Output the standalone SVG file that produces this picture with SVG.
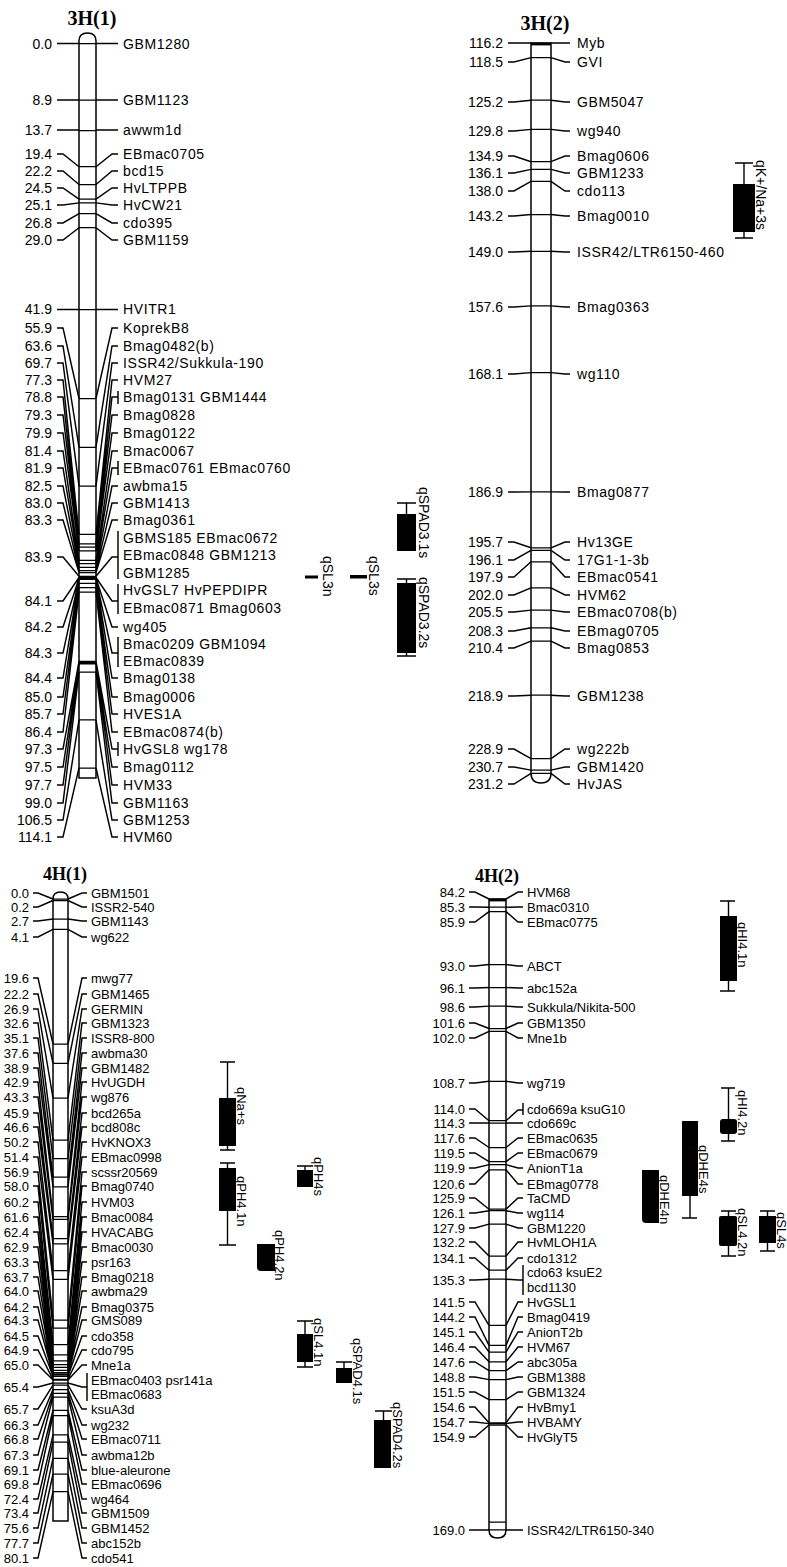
<svg xmlns="http://www.w3.org/2000/svg" width="787" height="1567" viewBox="0 0 787 1567">
<style>
.ln{fill:none;stroke:#000;stroke-width:1.45}
.il{fill:none;stroke:#000;stroke-width:1.25}
.bar{fill:#fff;stroke:#000;stroke-width:1.5}
.tk{fill:none;stroke:#000;stroke-width:2.8}
.t14{font-family:"Liberation Sans",Arial,sans-serif;font-size:14px;fill:#000}
.t13{font-family:"Liberation Sans",Arial,sans-serif;font-size:13px;fill:#000}
.n{text-anchor:end}
.m3{letter-spacing:0.6px}
.ttl{font-family:"Liberation Serif","Times New Roman",serif;font-weight:bold;text-anchor:middle;fill:#000}
.qb{fill:#000}
.qw{fill:none;stroke:#000;stroke-width:1.4}
</style>
<rect width="787" height="1567" fill="#fff"/>

<!-- ===== Chromosome 3H(1) ===== -->
<g id="chr-3H1">
<text class="ttl" x="92" y="25" font-size="20">3H(1)</text>
<path class="bar" d="M79,778V41Q79,33 87.5,33Q96,33 96,41V778Z"/>
<path class="il" d="M79,43.5H96M79,100H96M79,130.5H96M79,166.7H96M79,184.5H96M79,199.1H96M79,202.9H96M79,213.7H96M79,227.7H96M79,309.6H96M79,398.5H96M79,447.4H96M79,486.1H96M79,534.4H96M79,543.9H96M79,547.1H96M79,550.9H96M79,560.4H96M79,563.6H96M79,567.4H96M79,570.6H96M79,572.5H96M79,576.3H96M79,577.5H96M79,578.2H96M79,578.8H96M79,579.4H96M79,583.3H96M79,587.7H96M79,592.1H96M79,661.4H96M79,662.6H96M79,663.9H96M79,672.2H96M79,719.8H96M79,768H96"/>
<g class="t14 n">
<text x="52" y="49">0.0</text><text x="52" y="105">8.9</text><text x="52" y="135">13.7</text><text x="52" y="159">19.4</text><text x="52" y="176">22.2</text><text x="52" y="193">24.5</text><text x="52" y="210">25.1</text><text x="52" y="228">26.8</text><text x="52" y="245">29.0</text><text x="52" y="314">41.9</text><text x="52" y="333">55.9</text><text x="52" y="351">63.6</text><text x="52" y="368">69.7</text><text x="52" y="385">77.3</text><text x="52" y="402">78.8</text><text x="52" y="420">79.3</text><text x="52" y="438">79.9</text><text x="52" y="456">81.4</text><text x="52" y="473">81.9</text><text x="52" y="491">82.5</text><text x="52" y="508">83.0</text><text x="52" y="525">83.3</text><text x="52" y="562">83.9</text><text x="52" y="606">84.1</text><text x="52" y="632">84.2</text><text x="52" y="658">84.3</text><text x="52" y="683">84.4</text><text x="52" y="702">85.0</text><text x="52" y="719">85.7</text><text x="52" y="737">86.4</text><text x="52" y="754">97.3</text><text x="52" y="772">97.5</text><text x="52" y="790">97.7</text><text x="52" y="808">99.0</text><text x="52" y="825">106.5</text><text x="52" y="842">114.1</text>
</g>
<g class="t14 m3">
<text x="123" y="49">GBM1280</text><text x="123" y="105">GBM1123</text><text x="123" y="135">awwm1d</text><text x="123" y="159">EBmac0705</text><text x="123" y="176">bcd15</text><text x="123" y="193">HvLTPPB</text><text x="123" y="210">HvCW21</text><text x="123" y="228">cdo395</text><text x="123" y="245">GBM1159</text><text x="123" y="314">HVITR1</text><text x="123" y="333">KoprekB8</text><text x="123" y="351">Bmag0482(b)</text><text x="123" y="368">ISSR42/Sukkula-190</text><text x="123" y="385">HVM27</text><text x="123" y="402">Bmag0131 GBM1444</text><text x="123" y="420">Bmag0828</text><text x="123" y="438">Bmag0122</text><text x="123" y="456">Bmac0067</text><text x="123" y="473">EBmac0761 EBmac0760</text><text x="123" y="491">awbma15</text><text x="123" y="508">GBM1413</text><text x="123" y="525">Bmag0361</text><text x="123" y="543">GBMS185 EBmac0672</text><text x="123" y="560">EBmac0848 GBM1213</text><text x="123" y="578">GBM1285</text><text x="123" y="595">HvGSL7 HvPEPDIPR</text><text x="123" y="613">EBmac0871 Bmag0603</text><text x="123" y="632">wg405</text><text x="123" y="649">Bmac0209 GBM1094</text><text x="123" y="666">EBmac0839</text><text x="123" y="683">Bmag0138</text><text x="123" y="702">Bmag0006</text><text x="123" y="719">HVES1A</text><text x="123" y="737">EBmac0874(b)</text><text x="123" y="754">HvGSL8 wg178</text><text x="123" y="772">Bmag0112</text><text x="123" y="790">HVM33</text><text x="123" y="808">GBM1163</text><text x="123" y="825">GBM1253</text><text x="123" y="842">HVM60</text>
</g>
</g>

<!-- ===== Chromosome 3H(2) ===== -->
<g id="chr-3H2">
<text class="ttl" x="545" y="30" font-size="20">3H(2)</text>
<path class="bar" d="M531,43V773Q531,783 541,783Q551,783 551,773V43Z"/>
<path class="tk" d="M531,44H551"/>
<path class="il" d="M531,57.6H551M531,100.2H551M531,129.4H551M531,161.7H551M531,169.4H551M531,181.4H551M531,214.5H551M531,251.3H551M531,305.9H551M531,372.6H551M531,491.9H551M531,547.8H551M531,550.4H551M531,561.8H551M531,587.8H551M531,610.1H551M531,627.8H551M531,641.2H551M531,695.2H551M531,758.6H551M531,770.1H551M531,773.3H551"/>
<g class="t14 n">
<text x="503" y="48">116.2</text><text x="503" y="67">118.5</text><text x="503" y="107">125.2</text><text x="503" y="136">129.8</text><text x="503" y="161">134.9</text><text x="503" y="178">136.1</text><text x="503" y="196">138.0</text><text x="503" y="221">143.2</text><text x="503" y="257">149.0</text><text x="503" y="312">157.6</text><text x="503" y="379">168.1</text><text x="503" y="497">186.9</text><text x="503" y="547">195.7</text><text x="503" y="565">196.1</text><text x="503" y="582">197.9</text><text x="503" y="600">202.0</text><text x="503" y="617">205.5</text><text x="503" y="636">208.3</text><text x="503" y="653">210.4</text><text x="503" y="701">218.9</text><text x="503" y="754">228.9</text><text x="503" y="772">230.7</text><text x="503" y="789">231.2</text>
</g>
<g class="t14 m3">
<text x="577" y="48">Myb</text><text x="577" y="67">GVI</text><text x="577" y="107">GBM5047</text><text x="577" y="136">wg940</text><text x="577" y="161">Bmag0606</text><text x="577" y="178">GBM1233</text><text x="577" y="196">cdo113</text><text x="577" y="221">Bmag0010</text><text x="577" y="257">ISSR42/LTR6150-460</text><text x="577" y="312">Bmag0363</text><text x="577" y="379">wg110</text><text x="577" y="497">Bmag0877</text><text x="577" y="547">Hv13GE</text><text x="577" y="565">17G1-1-3b</text><text x="577" y="582">EBmac0541</text><text x="577" y="600">HVM62</text><text x="577" y="617">EBmac0708(b)</text><text x="577" y="636">EBmag0705</text><text x="577" y="653">Bmag0853</text><text x="577" y="701">GBM1238</text><text x="577" y="754">wg222b</text><text x="577" y="772">GBM1420</text><text x="577" y="789">HvJAS</text>
</g>
</g>

<!-- ===== Chromosome 4H(1) ===== -->
<g id="chr-4H1">
<text class="ttl" x="65" y="880" font-size="18">4H(1)</text>
<path class="bar" d="M53,1521V899Q53,892 60.5,892Q68,892 68,899V1521Z"/>
<path class="il" d="M53,899H68M53,900.5H68M53,919H68M53,929.3H68M53,1044H68M53,1063.3H68M53,1098H68M53,1140.2H68M53,1158.7H68M53,1177.2H68M53,1186.9H68M53,1216.5H68M53,1219.4H68M53,1238.7H68M53,1243.8H68M53,1270.5H68M53,1279.4H68M53,1320.1H68M53,1328.2H68M53,1344.5H68M53,1354.8H68M53,1360.8H68M53,1364.5H68M53,1367.4H68M53,1370.4H68M53,1372.6H68M53,1374.1H68M53,1374.8H68M53,1376.3H68M53,1379.3H68M53,1380H68M53,1383H68M53,1385.2H68M53,1389.6H68M53,1393.3H68M53,1397H68M53,1410.3H68M53,1415.5H68M53,1434.8H68M53,1442.2H68M53,1458.4H68M53,1474H68M53,1491.7H68"/>
<g class="t13 n">
<text x="29" y="897.5">0.0</text><text x="29" y="911.5">0.2</text><text x="29" y="925.5">2.7</text><text x="29" y="941.5">4.1</text><text x="29" y="982.5">19.6</text><text x="29" y="998.5">22.2</text><text x="29" y="1013.5">26.9</text><text x="29" y="1027.5">32.6</text><text x="29" y="1042.5">35.1</text><text x="29" y="1057.5">37.6</text><text x="29" y="1072.5">38.9</text><text x="29" y="1086.5">42.9</text><text x="29" y="1101.5">43.3</text><text x="29" y="1117.5">45.9</text><text x="29" y="1131.5">46.6</text><text x="29" y="1146.5">50.2</text><text x="29" y="1161.5">51.4</text><text x="29" y="1176.5">56.9</text><text x="29" y="1190.5">58.0</text><text x="29" y="1206.5">60.2</text><text x="29" y="1221.5">61.6</text><text x="29" y="1236.5">62.4</text><text x="29" y="1251.5">62.9</text><text x="29" y="1266.5">63.3</text><text x="29" y="1281.5">63.7</text><text x="29" y="1295.5">64.0</text><text x="29" y="1311.5">64.2</text><text x="29" y="1324.5">64.3</text><text x="29" y="1340.5">64.5</text><text x="29" y="1354.5">64.9</text><text x="29" y="1369.5">65.0</text><text x="29" y="1391.5">65.4</text><text x="29" y="1413.5">65.7</text><text x="29" y="1429.5">66.3</text><text x="29" y="1443.5">66.8</text><text x="29" y="1459.5">67.3</text><text x="29" y="1474.5">69.1</text><text x="29" y="1488.5">69.8</text><text x="29" y="1503.5">72.4</text><text x="29" y="1517.5">73.4</text><text x="29" y="1532.5">75.6</text><text x="29" y="1547.5">77.7</text><text x="29" y="1562.5">80.1</text>
</g>
<g class="t13">
<text x="91" y="897.5">GBM1501</text><text x="91" y="911.5">ISSR2-540</text><text x="91" y="925.5">GBM1143</text><text x="91" y="941.5">wg622</text><text x="91" y="982.5">mwg77</text><text x="91" y="998.5">GBM1465</text><text x="91" y="1013.5">GERMIN</text><text x="91" y="1027.5">GBM1323</text><text x="91" y="1042.5">ISSR8-800</text><text x="91" y="1057.5">awbma30</text><text x="91" y="1072.5">GBM1482</text><text x="91" y="1086.5">HvUGDH</text><text x="91" y="1101.5">wg876</text><text x="91" y="1117.5">bcd265a</text><text x="91" y="1131.5">bcd808c</text><text x="91" y="1146.5">HvKNOX3</text><text x="91" y="1161.5">EBmac0998</text><text x="91" y="1176.5">scssr20569</text><text x="91" y="1190.5">Bmag0740</text><text x="91" y="1206.5">HVM03</text><text x="91" y="1221.5">Bmac0084</text><text x="91" y="1236.5">HVACABG</text><text x="91" y="1251.5">Bmac0030</text><text x="91" y="1266.5">psr163</text><text x="91" y="1281.5">Bmag0218</text><text x="91" y="1295.5">awbma29</text><text x="91" y="1311.5">Bmag0375</text><text x="91" y="1324.5">GMS089</text><text x="91" y="1340.5">cdo358</text><text x="91" y="1354.5">cdo795</text><text x="91" y="1369.5">Mne1a</text><text x="91" y="1384.5">EBmac0403 psr141a</text><text x="91" y="1398.5">EBmac0683</text><text x="91" y="1413.5">ksuA3d</text><text x="91" y="1429.5">wg232</text><text x="91" y="1443.5">EBmac0711</text><text x="91" y="1459.5">awbma12b</text><text x="91" y="1474.5">blue-aleurone</text><text x="91" y="1488.5">EBmac0696</text><text x="91" y="1503.5">wg464</text><text x="91" y="1517.5">GBM1509</text><text x="91" y="1532.5">GBM1452</text><text x="91" y="1547.5">abc152b</text><text x="91" y="1562.5">cdo541</text>
</g>
</g>

<!-- ===== Chromosome 4H(2) ===== -->
<g id="chr-4H2">
<text class="ttl" x="497" y="882" font-size="18">4H(2)</text>
<path class="bar" d="M489,899V1530Q489,1538 497.5,1538Q506,1538 506,1530V899Z"/>
<path class="tk" d="M489,900H506"/>
<path class="il" d="M489,907.2H506M489,911.6H506M489,964.5H506M489,987.5H506M489,1006.1H506M489,1028.5H506M489,1031.4H506M489,1081.3H506M489,1120.7H506M489,1123H506M489,1147.5H506M489,1161.6H506M489,1164.6H506M489,1169.8H506M489,1209.2H506M489,1210.7H506M489,1224.1H506M489,1256.1H506M489,1270.2H506M489,1279.2H506M489,1325.3H506M489,1345.4H506M489,1352.1H506M489,1361.8H506M489,1370.7H506M489,1379.6H506M489,1399.7H506M489,1422.8H506M489,1423.6H506M489,1425H506M489,1522H506M489,1529.9H506"/>
<g class="t13 n">
<text x="465" y="896.5">84.2</text><text x="465" y="911.5">85.3</text><text x="465" y="926.5">85.9</text><text x="465" y="970.5">93.0</text><text x="465" y="992.5">96.1</text><text x="465" y="1011.5">98.6</text><text x="465" y="1027.5">101.6</text><text x="465" y="1042.5">102.0</text><text x="465" y="1087.5">108.7</text><text x="465" y="1113.5">114.0</text><text x="465" y="1127.5">114.3</text><text x="465" y="1142.5">117.6</text><text x="465" y="1157.5">119.5</text><text x="465" y="1172.5">119.9</text><text x="465" y="1188.5">120.6</text><text x="465" y="1202.5">125.9</text><text x="465" y="1217.5">126.1</text><text x="465" y="1232.5">127.9</text><text x="465" y="1246.5">132.2</text><text x="465" y="1262.5">134.1</text><text x="465" y="1284.5">135.3</text><text x="465" y="1306.5">141.5</text><text x="465" y="1321.5">144.2</text><text x="465" y="1336.5">145.1</text><text x="465" y="1351.5">146.4</text><text x="465" y="1366.5">147.6</text><text x="465" y="1381.5">148.8</text><text x="465" y="1396.5">151.5</text><text x="465" y="1411.5">154.6</text><text x="465" y="1426.5">154.7</text><text x="465" y="1441.5">154.9</text><text x="465" y="1534.5">169.0</text>
</g>
<g class="t13">
<text x="527" y="896.5">HVM68</text><text x="527" y="911.5">Bmac0310</text><text x="527" y="926.5">EBmac0775</text><text x="527" y="970.5">ABCT</text><text x="527" y="992.5">abc152a</text><text x="527" y="1011.5">Sukkula/Nikita-500</text><text x="527" y="1027.5">GBM1350</text><text x="527" y="1042.5">Mne1b</text><text x="527" y="1087.5">wg719</text><text x="527" y="1113.5">cdo669a ksuG10</text><text x="527" y="1127.5">cdo669c</text><text x="527" y="1142.5">EBmac0635</text><text x="527" y="1157.5">EBmac0679</text><text x="527" y="1172.5">AnionT1a</text><text x="527" y="1188.5">EBmag0778</text><text x="527" y="1202.5">TaCMD</text><text x="527" y="1217.5">wg114</text><text x="527" y="1232.5">GBM1220</text><text x="527" y="1246.5">HvMLOH1A</text><text x="527" y="1262.5">cdo1312</text><text x="527" y="1276.5">cdo63 ksuE2</text><text x="527" y="1291.5">bcd1130</text><text x="527" y="1306.5">HvGSL1</text><text x="527" y="1321.5">Bmag0419</text><text x="527" y="1336.5">AnionT2b</text><text x="527" y="1351.5">HVM67</text><text x="527" y="1366.5">abc305a</text><text x="527" y="1381.5">GBM1388</text><text x="527" y="1396.5">GBM1324</text><text x="527" y="1411.5">HvBmy1</text><text x="527" y="1426.5">HVBAMY</text><text x="527" y="1441.5">HvGlyT5</text><text x="527" y="1534.5">ISSR42/LTR6150-340</text>
</g>
</g>

<!-- ===== Connectors ===== -->
<g id="connectors" class="ln">
<path d="M57,43.5H79M96,43.5H118M57,100H79M96,100H118M57,130H79M96,130H118M57,309.5H79M96,309.5H118"/>
<path d="M57,154H63L79,166.7M96,166.7L112,154H118M57,171H63L79,184.5M96,184.5L112,171H118M57,188H63L79,199.1M96,199.1L112,188H118M57,205H63L79,202.9M96,202.9L112,205H118M57,223H63L79,213.7M96,213.7L112,223H118M57,240H63L79,227.7M96,227.7L112,240H118"/>
<path d="M57,328H63L79,398.5M96,398.5L112,328H118M57,346H63L79,447.4M96,447.4L112,346H118M57,363H63L79,486.1M96,486.1L112,363H118M57,380H63L79,534.4M96,534.4L112,380H118M57,397H63L79,543.9M96,543.9L112,397H118M118,391V404M57,415H63L79,547.1M96,547.1L112,415H118M57,433H63L79,550.9M96,550.9L112,433H118M57,451H63L79,560.4M96,560.4L112,451H118M57,468H63L79,563.6M96,563.6L112,468H118M118,461V475M57,486H63L79,567.4M96,567.4L112,486H118M57,503H63L79,570.6M96,570.6L112,503H118M57,520H63L79,572.5M96,572.5L112,520H118"/>
<path d="M57,557H63L79,576.3M96,576.3L112,557H118M118,531V579M57,601H63L79,577.5M96,577.5L112,601H118M118,584V614M57,627H63L79,578.2M96,578.2L112,627H118M57,653H63L79,578.8M96,578.8L112,653H118M118,637V667M57,678H63L79,579.4M96,579.4L112,678H118M57,697H63L79,583.3M96,583.3L112,697H118M57,714H63L79,587.7M96,587.7L112,714H118M57,732H63L79,592.1M96,592.1L112,732H118"/>
<path d="M57,749H63L79,661.4M96,661.4L112,749H118M118,742V756M57,767H63L79,662.6M96,662.6L112,767H118M57,785H63L79,663.9M96,663.9L112,785H118M57,803H63L79,672.2M96,672.2L112,803H118M57,820H63L79,719.8M96,719.8L112,820H118M57,837H63L79,768M96,768L112,837H118"/>

<path d="M508,43H531M551,43H570M508,62H514L531,57.6M551,57.6L565,62H570M508,102H514L531,100.2M551,100.2L565,102H570M508,131H514L531,129.4M551,129.4L565,131H570M508,156H514L531,161.7M551,161.7L565,156H570M508,173H514L531,169.4M551,169.4L565,173H570M508,191H514L531,181.4M551,181.4L565,191H570M508,216H514L531,214.5M551,214.5L565,216H570M508,252H514L531,251.3M551,251.3L565,252H570M508,307H514L531,305.9M551,305.9L565,307H570M508,374H514L531,372.6M551,372.6L565,374H570M508,492H514L531,491.9M551,491.9L565,492H570"/>
<path d="M508,542H514L531,547.8M551,547.8L565,542H570M508,560H514L531,550.4M551,550.4L565,560H570M508,577H514L531,561.8M551,561.8L565,577H570M508,595H514L531,587.8M551,587.8L565,595H570M508,612H514L531,610.1M551,610.1L565,612H570M508,631H514L531,627.8M551,627.8L565,631H570M508,648H514L531,641.2M551,641.2L565,648H570M508,696H514L531,695.2M551,695.2L565,696H570M508,749H514L531,758.6M551,758.6L565,749H570M508,767H514L531,770.1M551,770.1L565,767H570M508,784H514L531,773.3M551,773.3L565,784H570"/>

<path d="M33,893H38L53,899M68,899L82,893H87M33,907H38L53,900.5M68,900.5L82,907H87M33,921H38L53,919M68,919L82,921H87M33,937H38L53,929.3M68,929.3L82,937H87M33,978H38L53,1044M68,1044L82,978H87M33,994H38L53,1063.3M68,1063.3L82,994H87M33,1009H38L53,1098M68,1098L82,1009H87M33,1023H38L53,1140.2M68,1140.2L82,1023H87M33,1038H38L53,1158.7M68,1158.7L82,1038H87M33,1053H38L53,1177.2M68,1177.2L82,1053H87M33,1068H38L53,1186.9M68,1186.9L82,1068H87M33,1082H38L53,1216.5M68,1216.5L82,1082H87M33,1097H38L53,1219.4M68,1219.4L82,1097H87M33,1113H38L53,1238.7M68,1238.7L82,1113H87M33,1127H38L53,1243.8M68,1243.8L82,1127H87M33,1142H38L53,1270.5M68,1270.5L82,1142H87M33,1157H38L53,1279.4M68,1279.4L82,1157H87M33,1172H38L53,1320.1M68,1320.1L82,1172H87M33,1186H38L53,1328.2M68,1328.2L82,1186H87"/>
<path d="M33,1202H38L53,1344.5M68,1344.5L82,1202H87M33,1217H38L53,1354.8M68,1354.8L82,1217H87M33,1232H38L53,1360.8M68,1360.8L82,1232H87M33,1247H38L53,1364.5M68,1364.5L82,1247H87M33,1262H38L53,1367.4M68,1367.4L82,1262H87M33,1277H38L53,1370.4M68,1370.4L82,1277H87M33,1291H38L53,1372.6M68,1372.6L82,1291H87M33,1307H38L53,1374.1M68,1374.1L82,1307H87M33,1320H38L53,1374.8M68,1374.8L82,1320H87M33,1336H38L53,1376.3M68,1376.3L82,1336H87M33,1350H38L53,1379.3M68,1379.3L82,1350H87M33,1365H38L53,1380M68,1380L82,1365H87M33,1387H38L53,1383M68,1383L82,1387H87M87,1373V1401"/>
<path d="M33,1409H38L53,1385.2M68,1385.2L82,1409H87M33,1425H38L53,1389.6M68,1389.6L82,1425H87M33,1439H38L53,1393.3M68,1393.3L82,1439H87M33,1455H38L53,1397M68,1397L82,1455H87M33,1470H38L53,1410.3M68,1410.3L82,1470H87M33,1484H38L53,1415.5M68,1415.5L82,1484H87M33,1499H38L53,1434.8M68,1434.8L82,1499H87M33,1513H38L53,1442.2M68,1442.2L82,1513H87M33,1528H38L53,1458.4M68,1458.4L82,1528H87M33,1543H38L53,1474M68,1474L82,1543H87M33,1558H38L53,1491.7M68,1491.7L82,1558H87"/>

<path d="M469,892H475L489,899M506,899L518,892H523M469,907H475L489,907.2M506,907.2L518,907H523M469,922H475L489,911.6M506,911.6L518,922H523M469,966H475L489,964.5M506,964.5L518,966H523M469,988H475L489,987.5M506,987.5L518,988H523M469,1007H475L489,1006.1M506,1006.1L518,1007H523M469,1023H475L489,1028.5M506,1028.5L518,1023H523M469,1038H475L489,1031.4M506,1031.4L518,1038H523M469,1083H475L489,1081.3M506,1081.3L518,1083H523M469,1109H475L489,1120.7M506,1120.7L518,1110H523M523,1103V1115M469,1123H489M506,1123H523M469,1138H475L489,1147.5M506,1147.5L518,1138H523M469,1153H475L489,1161.6M506,1161.6L518,1153H523M469,1168H475L489,1164.6M506,1164.6L518,1168H523M469,1184H475L489,1169.8M506,1169.8L518,1184H523"/>
<path d="M469,1198H475L489,1209.2M506,1209.2L518,1198H523M469,1213H475L489,1210.7M506,1210.7L518,1213H523M469,1228H475L489,1224.1M506,1224.1L518,1228H523M469,1242H475L489,1256.1M506,1256.1L518,1242H523M469,1258H475L489,1270.2M506,1270.2L518,1258H523M469,1280H475L489,1279.2M506,1279.2L518,1280H523M523,1265V1295M469,1302H475L489,1325.3M506,1325.3L518,1302H523M469,1317H475L489,1345.4M506,1345.4L518,1317H523M469,1332H475L489,1352.1M506,1352.1L518,1332H523M469,1347H475L489,1361.8M506,1361.8L518,1347H523M469,1362H475L489,1370.7M506,1370.7L518,1362H523M469,1377H475L489,1379.6M506,1379.6L518,1377H523M469,1392H475L489,1399.7M506,1399.7L518,1392H523M469,1407H475L489,1422.8M506,1422.8L518,1407H523M469,1422H475L489,1423.6M506,1423.6L518,1422H523M469,1437H475L489,1425M506,1425L518,1437H523M469,1530H489M506,1530H523"/>
</g>

<!-- ===== QTLs ===== -->
<g id="qtl-qSPAD3.1s"><path class="qw" d="M397,503H416M406.5,503V514"/><rect class="qb" x="397" y="514" width="19" height="37"/><text class="t14" transform="translate(419,487) rotate(90)">qSPAD3.1s</text></g>
<g id="qtl-qSPAD3.2s"><path class="qw" d="M397,579H416M406.5,579V583M406.5,653V656M397,656H416"/><rect class="qb" x="397" y="583" width="19" height="70"/><text class="t14" transform="translate(419,577) rotate(90)">qSPAD3.2s</text></g>
<g id="qtl-qSL3n"><rect class="qb" x="305" y="575.5" width="13" height="3"/><text class="t14" transform="translate(323,556) rotate(90)">qSL3n</text></g>
<g id="qtl-qSL3s"><rect class="qb" x="350" y="575" width="17" height="3.5"/><text class="t14" transform="translate(369,556) rotate(90)">qSL3s</text></g>
<g id="qtl-qKNa3s"><path class="qw" d="M735,163H753M744,163V184M744,232V238M735,238H753"/><rect class="qb" x="733" y="184" width="22" height="48"/><text class="t14" transform="translate(756,160) rotate(90)">qK+/Na+3s</text></g>
<g id="qtl-qNas"><path class="qw" d="M220,1062H235M227.5,1062V1098M227.5,1146V1150M220,1150H235"/><rect class="qb" x="219" y="1098" width="17" height="48"/><text class="t13" transform="translate(237,1087) rotate(90)">qNa+s</text></g>
<g id="qtl-qPH4.1n"><path class="qw" d="M220,1163H235M227.5,1163V1168M227.5,1211V1245M219,1245H236"/><rect class="qb" x="219" y="1168" width="17" height="43"/><text class="t13" transform="translate(237,1176) rotate(90)">qPH4.1n</text></g>
<g id="qtl-qPH4s"><path class="qw" d="M297,1166H313M305,1166V1170"/><rect class="qb" x="297" y="1170" width="16" height="17"/><text class="t13" transform="translate(314,1157) rotate(90)">qPH4s</text></g>
<g id="qtl-qPH4.2n"><path class="qb" d="M257,1244H275V1271H261Q257,1271 257,1267Z"/><text class="t13" transform="translate(275,1230) rotate(90)">qPH4.2n</text></g>
<g id="qtl-qSL4.1n"><path class="qw" d="M297,1321H313M305,1321V1334M305,1362V1367M297,1367H313"/><rect class="qb" x="297" y="1334" width="16" height="28"/><text class="t13" transform="translate(314,1318) rotate(90)">qSL4.1n</text></g>
<g id="qtl-qSPAD4.1s"><path class="qw" d="M336,1362H352M344,1362V1368"/><rect class="qb" x="336" y="1368" width="16" height="15"/><text class="t13" transform="translate(353,1338) rotate(90)">qSPAD4.1s</text></g>
<g id="qtl-qSPAD4.2s"><path class="qw" d="M375,1411H392M383.5,1411V1420"/><rect class="qb" x="374" y="1420" width="17" height="48"/><text class="t13" transform="translate(393,1402) rotate(90)">qSPAD4.2s</text></g>
<g id="qtl-qHI4.1n"><path class="qw" d="M720,901H735M728.5,901V916M728.5,981V991M720,991H735"/><rect class="qb" x="720" y="916" width="17" height="65"/><text class="t13" transform="translate(738,922) rotate(90)">qHI4.1n</text></g>
<g id="qtl-qHI4.2n"><path class="qw" d="M721,1088H735M728.5,1088V1119M728.5,1134V1141M721,1141H735"/><rect class="qb" x="720" y="1119" width="17" height="15" rx="3"/><text class="t13" transform="translate(738,1090) rotate(90)">qHI4.2n</text></g>
<g id="qtl-qDHE4s"><path class="qw" d="M690,1196V1218M682,1218H697"/><rect class="qb" x="682" y="1121" width="16" height="75"/><text class="t13" transform="translate(699,1145) rotate(90)">qDHE4s</text></g>
<g id="qtl-qDHE4n"><path class="qb" d="M642,1170H659V1223H646Q642,1223 642,1219Z"/><text class="t13" transform="translate(660,1175) rotate(90)">qDHE4n</text></g>
<g id="qtl-qSL4.2n"><path class="qw" d="M721,1211H736M728.5,1211V1216M728.5,1246V1256M721,1256H736"/><rect class="qb" x="719" y="1216" width="18" height="30" rx="2"/><text class="t13" transform="translate(738,1208) rotate(90)">qSL4.2n</text></g>
<g id="qtl-qSL4s"><path class="qw" d="M760,1211H775M767.5,1211V1216M767.5,1243V1251M760,1251H775"/><rect class="qb" x="759" y="1216" width="17" height="27"/><text class="t13" transform="translate(777,1212) rotate(90)">qSL4s</text></g>
</svg>
